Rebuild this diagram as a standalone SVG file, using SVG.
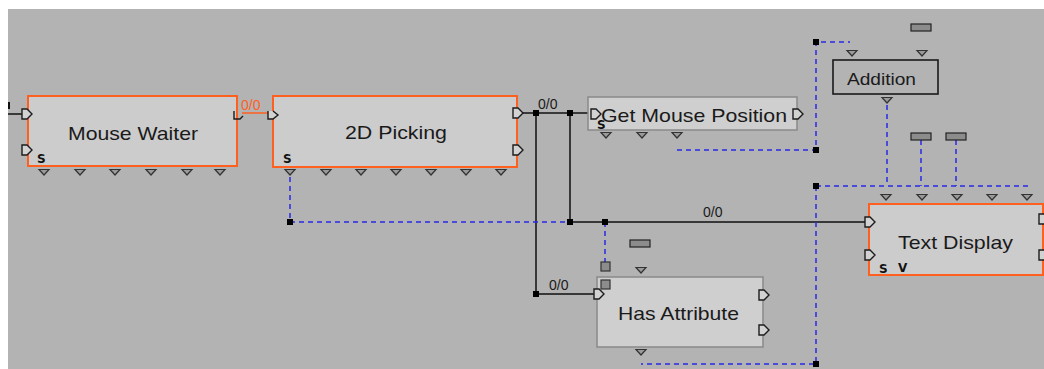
<svg xmlns="http://www.w3.org/2000/svg" width="1044" height="369" viewBox="0 0 1044 369">
<style>
.lbl{font-family:"Liberation Sans",Arial,sans-serif;fill:#1a1a1a}
.big{font-size:19px}
.small{font-size:14px}
.sel{fill:#cccccc;stroke:#ff5f1f;stroke-width:2}
.box{fill:#cfcfcf;stroke:#8a8a8a;stroke-width:1.5}
.dash{fill:none;stroke:#2a2ae6;stroke-width:1.5;stroke-dasharray:5 4}
.wire{fill:none;stroke:#111;stroke-width:1.5}
.owire{fill:none;stroke:#ff5f1f;stroke-width:1.5}
.bold{font-family:"DejaVu Sans",sans-serif;font-weight:bold;font-size:12px;fill:#111}
</style>
<defs>
<path id="port" d="M0,-5 h5 l5,5 l-5,5 h-5 z" fill="#d2d2d2" stroke="#1c1c1c" stroke-width="1.4"/>
<path id="tri" d="M-5,-2.5 h10 l-5,5.5 z" fill="#9a9a9a" stroke="#333" stroke-width="1.2"/>
<rect id="jn" x="-3" y="-3" width="6" height="6" fill="#000"/>
<rect id="konst" x="0" y="0" width="20" height="7" fill="#8c8c8c" stroke="#222" stroke-width="1.2"/>
</defs>
<rect x="0" y="0" width="1044" height="369" fill="#ffffff"/>
<rect x="8" y="9" width="1036" height="360" fill="#b3b3b3"/>

<g id="connectors">
<line x1="8" y1="114" x2="22" y2="114" class="wire"/>
<line x1="9" y1="102" x2="9" y2="109" stroke="#111" stroke-width="2"/>
<path class="owire" d="M242,113 H270"/>
<text x="241" y="110" font-family="Liberation Sans, Arial, sans-serif" fill="#ff5f1f" font-size="14">0/0</text>
<path class="wire" d="M522,113 H590"/>
<path class="wire" d="M536,113 V294 H594"/>
<path class="wire" d="M570,113 V222 H866"/>
<text x="538" y="109" class="lbl small">0/0</text>
<text x="549" y="290" class="lbl small">0/0</text>
<text x="703" y="217" class="lbl small">0/0</text>
<path class="dash" d="M290,177 V222 H570"/>
<path class="dash" d="M605,222 V262"/>
<path class="dash" d="M677,150 H816 V42 H850"/>
<path class="dash" d="M887,105 V186"/>
<path class="dash" d="M921,140 V186"/>
<path class="dash" d="M956,140 V186"/>
<path class="dash" d="M816,186 H1028"/>
<path class="dash" d="M816,186 V364 H641"/>
<use href="#jn" x="536" y="113"/>
<use href="#jn" x="570" y="113"/>
<use href="#jn" x="570" y="222"/>
<use href="#jn" x="605" y="222"/>
<use href="#jn" x="536" y="294"/>
<use href="#jn" x="290" y="222"/>
<use href="#jn" x="816" y="150"/>
<use href="#jn" x="816" y="42"/>
<use href="#jn" x="816" y="186"/>
<use href="#jn" x="816" y="364"/>
</g>

<g id="mouse-waiter">
<rect x="28" y="96" width="209" height="70" class="sel"/>
<text x="68" y="140" class="lbl big" textLength="130" lengthAdjust="spacingAndGlyphs">Mouse Waiter</text>
<use href="#port" x="22" y="114"/>
<use href="#port" x="22" y="150"/>
<text x="37" y="163" class="bold">S</text>
<path d="M234,111 V119 H240 L243,116" fill="none" stroke="#1c1c1c" stroke-width="1.4"/>
<use href="#tri" x="44" y="172"/>
<use href="#tri" x="80" y="172"/>
<use href="#tri" x="115" y="172"/>
<use href="#tri" x="151" y="172"/>
<use href="#tri" x="187" y="172"/>
<use href="#tri" x="220" y="172"/>
</g>

<g id="picking-2d">
<rect x="273" y="96" width="244" height="71" class="sel"/>
<text x="345" y="139" class="lbl big" textLength="102" lengthAdjust="spacingAndGlyphs">2D Picking</text>
<path d="M268,111 V119 H273 L278,115 L273,111" fill="#d2d2d2" stroke="#1c1c1c" stroke-width="1.4"/>
<use href="#port" x="513" y="113"/>
<use href="#port" x="513" y="150"/>
<text x="283" y="163" class="bold">S</text>
<use href="#tri" x="290" y="172"/>
<use href="#tri" x="326" y="172"/>
<use href="#tri" x="361" y="172"/>
<use href="#tri" x="396" y="172"/>
<use href="#tri" x="431" y="172"/>
<use href="#tri" x="466" y="172"/>
<use href="#tri" x="501" y="172"/>
</g>

<g id="get-mouse-position">
<rect x="588" y="97" width="209" height="33" class="box"/>
<use href="#port" x="591" y="114"/>
<use href="#port" x="793" y="114"/>
<text x="601" y="122" class="lbl big" textLength="186" lengthAdjust="spacingAndGlyphs">Get Mouse Position</text>
<text x="597" y="129" class="bold">S</text>
<use href="#tri" x="606" y="135"/>
<use href="#tri" x="642" y="135"/>
<use href="#tri" x="677" y="135"/>
</g>

<g id="addition">
<rect x="833" y="60" width="105" height="34" fill="#b3b3b3" stroke="#1a1a1a" stroke-width="1.6"/>
<text x="847" y="85" class="lbl" font-size="16" textLength="69" lengthAdjust="spacingAndGlyphs">Addition</text>
<use href="#konst" x="911" y="24"/>
<use href="#tri" x="852" y="53"/>
<use href="#tri" x="922" y="53"/>
<use href="#tri" x="887" y="100"/>
</g>

<g id="has-attribute">
<rect x="597" y="277" width="166" height="70" class="box"/>
<text x="618" y="320" class="lbl big" textLength="121" lengthAdjust="spacingAndGlyphs">Has Attribute</text>
<use href="#port" x="594" y="294"/>
<use href="#port" x="759" y="295"/>
<use href="#port" x="759" y="330"/>
<rect x="601" y="262" width="9" height="9" fill="#8c8c8c" stroke="#333" stroke-width="1.2"/>
<rect x="601" y="280" width="9" height="9" fill="#8c8c8c" stroke="#333" stroke-width="1.2"/>
<use href="#konst" x="630" y="240"/>
<use href="#tri" x="641" y="270"/>
<use href="#tri" x="641" y="352"/>
</g>

<g id="text-display">
<rect x="869" y="204" width="174" height="71" class="sel"/>
<text x="898" y="249" class="lbl big" textLength="115" lengthAdjust="spacingAndGlyphs">Text Display</text>
<use href="#port" x="865" y="222"/>
<use href="#port" x="865" y="255"/>
<use href="#port" x="1039" y="219"/>
<use href="#port" x="1039" y="255"/>
<text x="879" y="273" class="bold">S</text>
<text x="898" y="272" class="bold">V</text>
<use href="#konst" x="911" y="133"/>
<use href="#konst" x="946" y="133"/>
<use href="#tri" x="886" y="197"/>
<use href="#tri" x="922" y="197"/>
<use href="#tri" x="957" y="197"/>
<use href="#tri" x="992" y="197"/>
<use href="#tri" x="1027" y="197"/>
</g>
</svg>
